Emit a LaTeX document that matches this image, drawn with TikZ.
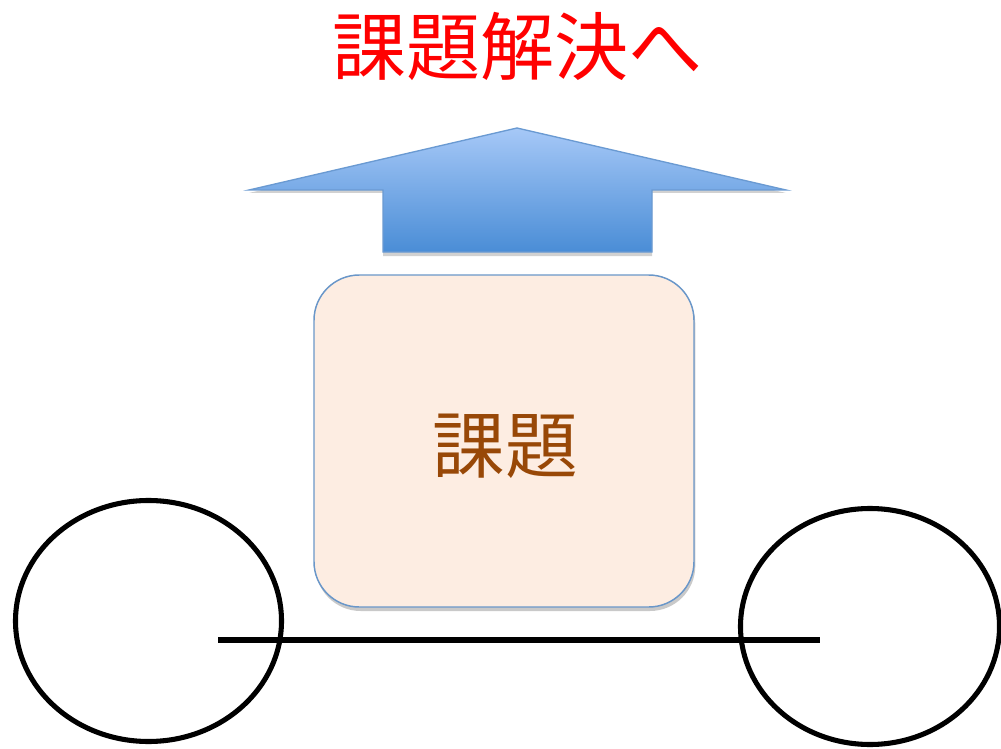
\documentclass[tikz,border=0pt]{standalone}
\usepackage{fontspec}
\newfontfamily\cjk{Noto Sans CJK JP}
\usetikzlibrary{shadows,shapes.geometric}
\definecolor{titlered}{HTML}{FF0000}
\definecolor{boxfill}{HTML}{FDEDE2}
\definecolor{boxline}{HTML}{6A97C9}
\definecolor{boxtext}{HTML}{984807}
\definecolor{arrtop}{HTML}{A6C8F7}
\definecolor{arrbot}{HTML}{4A8DD6}
\definecolor{arrline}{HTML}{6A9AD2}
\tikzset{
  wheel/.style={draw=black,line width=3.8pt,ellipse,inner sep=0pt},
  taskbox/.style={draw=boxline,line width=1.1pt,fill=boxfill,rounded corners=34pt,
    minimum width=380*0.75pt,minimum height=332*0.75pt,
    drop shadow={shadow xshift=1pt,shadow yshift=-3pt,opacity=0.35,fill=black!60}},
  tasktext/.style={text=boxtext,font=\cjk\fontsize{54.5pt}{60pt}\selectfont},
  titletext/.style={text=titlered,font=\cjk\fontsize{55.5pt}{60pt}\selectfont}
}
\begin{document}
\begin{tikzpicture}[x=0.75pt,y=-0.75pt]
\useasboundingbox[fill=white] (0,0) rectangle (1001,749);
% title
\node[titletext] (title) at (517,46) {課題解決へ};
% arrow
\fill[black,opacity=0.18] (249,193) -- (517,131) -- (786,193) -- (652,193) -- (652,256) -- (383,256) -- (383,193) -- cycle;
\shade[top color=arrtop,bottom color=arrbot,draw=arrline,line width=1pt,line join=miter]
  (249,190) -- (517,128) -- (786,190) -- (652,190) -- (652,252) -- (383,252) -- (383,190) -- cycle;
% box
\node[taskbox] (task) at (504,441) {};
\node[tasktext] (tasklabel) at (505,446) {課題};
% wheels and axle
\node[wheel,minimum width=266*0.75pt,minimum height=241*0.75pt] (lw) at (148.5,621) {};
\node[wheel,minimum width=259*0.75pt,minimum height=236*0.75pt] (rw) at (870,626.5) {};
\coordinate (axl) at (218,640);
\coordinate (axr) at (820,640);
\draw[line width=3.8pt] (axl) -- (axr);
\end{tikzpicture}
\end{document}
